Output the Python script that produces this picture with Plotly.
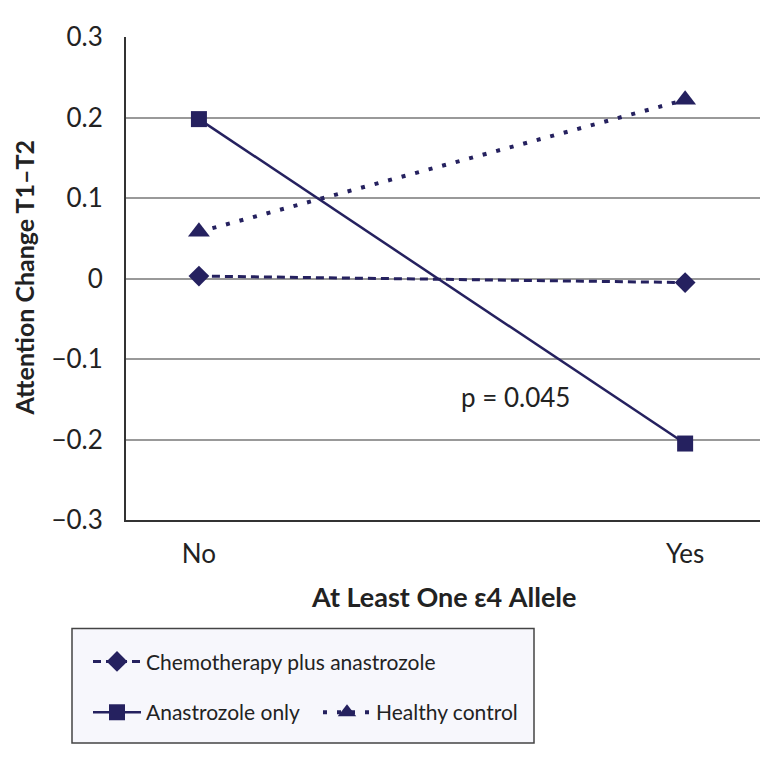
import plotly.graph_objects as go

categories = ["No", "Yes"]
x_pos = [0, 1]
chemo = [0.003, -0.005]
anastrozole = [0.198, -0.205]
healthy = [0.058, 0.222]
y_ticks = [-0.3, -0.2, -0.1, 0, 0.1, 0.2, 0.3]
y_tick_text = ["\u22120.3", "\u22120.2", "\u22120.1", "0", "0.1", "0.2", "0.3"]

NAVY = "#25215f"
TXT = "#222222"
FONT = "Lato"

fig = go.Figure()
fig.add_trace(go.Scatter(
    x=x_pos, y=chemo, mode="lines+markers", name="Chemotherapy plus anastrozole",
    line=dict(color=NAVY, width=3, dash="8px,5px"),
    marker=dict(symbol="diamond", size=16, color=NAVY), legend="legend"))
fig.add_trace(go.Scatter(
    x=x_pos, y=anastrozole, mode="lines+markers", name="Anastrozole only",
    line=dict(color=NAVY, width=2.5),
    marker=dict(symbol="square", size=16, color=NAVY), legend="legend2"))
fig.add_trace(go.Scatter(
    x=x_pos, y=healthy, mode="lines+markers", name="Healthy control",
    line=dict(color=NAVY, width=4, dash="4px,10px"),
    marker=dict(symbol="triangle-up", size=19, color=NAVY), legend="legend3"))

W, H = 770, 757
OFF = 8  # page body margin
L, T = 126 - OFF, 26 - OFF
pw, ph = 634, 494
R = W - L - pw
B = H - T - ph


def px(x):
    return (x - OFF - L) / pw


def py(y):
    return (T + ph - (y - OFF)) / ph


legend_common = dict(bgcolor="rgba(0,0,0,0)", font=dict(family=FONT, size=21, color=TXT),
                     orientation="h", xanchor="left", yanchor="middle", itemwidth=48)

fig.update_layout(
    width=W, height=H,
    margin=dict(l=L, r=R, t=T, b=B),
    paper_bgcolor="white", plot_bgcolor="white",
    font=dict(family=FONT, size=21, color=TXT),
    showlegend=True,
    legend=dict(x=px(88), y=py(665), **legend_common),
    legend2=dict(x=px(88), y=py(717), **legend_common),
    legend3=dict(x=px(318), y=py(717), **legend_common),
    xaxis=dict(range=[-0.15, 1.154], tickvals=x_pos, ticktext=categories,
               showgrid=False, zeroline=False, showline=True, linecolor="#333", linewidth=2,
               ticks="", ticklabelstandoff=10, tickfont=dict(family=FONT, size=26, color=TXT)),
    yaxis=dict(range=[-0.3, 0.3], tickvals=y_ticks, ticktext=y_tick_text,
               showgrid=True, gridcolor="#999", gridwidth=1.5, zeroline=False,
               showline=True, linecolor="#333", linewidth=2,
               ticks="", ticklabelstandoff=16, tickfont=dict(family=FONT, size=26, color=TXT)),
    shapes=[dict(type="rect", xref="paper", yref="paper",
                 x0=px(72), x1=px(534), y0=py(748), y1=py(631),
                 fillcolor="#f7f7fc", line=dict(color="#444", width=1.5), layer="below")],
    annotations=[
        dict(text="p = 0.045", xref="paper", yref="paper", x=px(516), y=py(394),
             showarrow=False, font=dict(family=FONT, size=26, color=TXT),
             xanchor="center", yanchor="middle"),
        dict(text="<b>Attention Change T1\u2013T2</b>", xref="paper", yref="paper",
             x=px(24), y=py(272), textangle=-90, showarrow=False,
             font=dict(family=FONT, size=25, color=TXT), xanchor="center", yanchor="middle"),
        dict(text="<b>At Least One \u03b54 Allele</b>", xref="paper", yref="paper",
             x=px(443), y=py(598), showarrow=False,
             font=dict(family=FONT, size=27, color=TXT), xanchor="center", yanchor="middle"),
    ],
)

fig.write_html("out.html")
